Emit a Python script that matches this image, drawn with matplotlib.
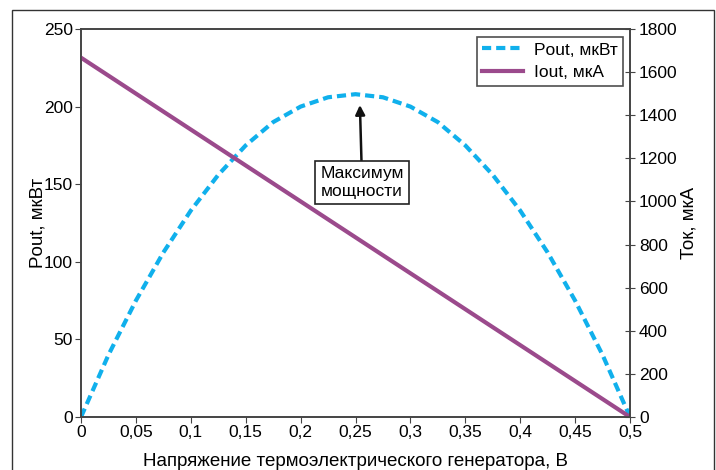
import matplotlib.pyplot as plt
from matplotlib.patches import Rectangle

plt.rcParams['font.family'] = ['Liberation Sans', 'DejaVu Sans']

# напряжение, В
volts = [0, 0.025, 0.05, 0.075, 0.1, 0.125, 0.15, 0.175, 0.2, 0.225, 0.25,
         0.275, 0.3, 0.325, 0.35, 0.375, 0.4, 0.425, 0.45, 0.475, 0.5]
# мощность, мкВт
pout = [0, 40, 75, 106, 133, 156, 175, 190, 200, 206, 208,
        206, 200, 190, 175, 156, 133, 106, 75, 40, 0]
# ток, мкА
i_volts = [0, 0.5]
iout = [1667, 0]

x_ticks = [0, 0.05, 0.1, 0.15, 0.2, 0.25, 0.3, 0.35, 0.4, 0.45, 0.5]
x_labels = ['0', '0,05', '0,1', '0,15', '0,2', '0,25', '0,3', '0,35', '0,4', '0,45', '0,5']

blue = '#10b0ec'
purple = '#9b4a8c'

fig = plt.figure(figsize=(7.16, 4.70), dpi=100)
fig.patches.append(Rectangle((12/716, -0.05), 702/716, 1.05 - 10/470,
                             transform=fig.transFigure, fill=False,
                             edgecolor='#333333', lw=1.0))

ax = fig.add_axes([81/716, 53/470, 549/716, 388/470])
ax2 = ax.twinx()

l1, = ax.plot(volts, pout, color=blue, lw=3, ls=(0, (2.2, 1.2)), label='Pout, мкВт')
l2, = ax2.plot(i_volts, iout, color=purple, lw=3, label='Iout, мкА')

ax.set_xlim(0, 0.5)
ax.set_ylim(0, 250)
ax2.set_ylim(0, 1800)
ax.set_xticks(x_ticks)
ax.set_xticklabels(x_labels)
ax.set_yticks(range(0, 251, 50))
ax2.set_yticks(range(0, 1801, 200))

for a in (ax, ax2):
    for s in a.spines.values():
        s.set_color('#444444')
        s.set_linewidth(1.2)
ax.tick_params(axis='both', labelsize=12.5, length=4, color='#444444', pad=2)
ax2.tick_params(axis='y', labelsize=12.5, direction='inout', length=7, color='#444444', pad=3)

ax.set_xlabel('Напряжение термоэлектрического генератора, В', fontsize=13.5, labelpad=9)
ax.set_ylabel('Pout, мкВт', fontsize=13.5, labelpad=-2)
ax2.set_ylabel('Ток, мкА', fontsize=13.5, labelpad=2)

ax.annotate('Максимум\nмощности', xy=(0.254, 201), xytext=(0.256, 151),
            ha='center', va='center', fontsize=12.5,
            bbox=dict(boxstyle='square,pad=0.3', fc='white', ec='#222222', lw=1.2),
            arrowprops=dict(arrowstyle='-|>', color='#111111', lw=1.8, mutation_scale=14,
                            shrinkA=0, shrinkB=0))

leg = ax.legend(handles=[l1, l2], loc='upper right', fontsize=12.5, frameon=True,
                fancybox=False, edgecolor='#222222', handlelength=2.4,
                borderpad=0.3, labelspacing=0.45, handletextpad=0.6,
                borderaxespad=0, bbox_to_anchor=(0.987, 0.979))
leg.get_frame().set_linewidth(1.2)

fig.savefig('out.png', dpi=100)
